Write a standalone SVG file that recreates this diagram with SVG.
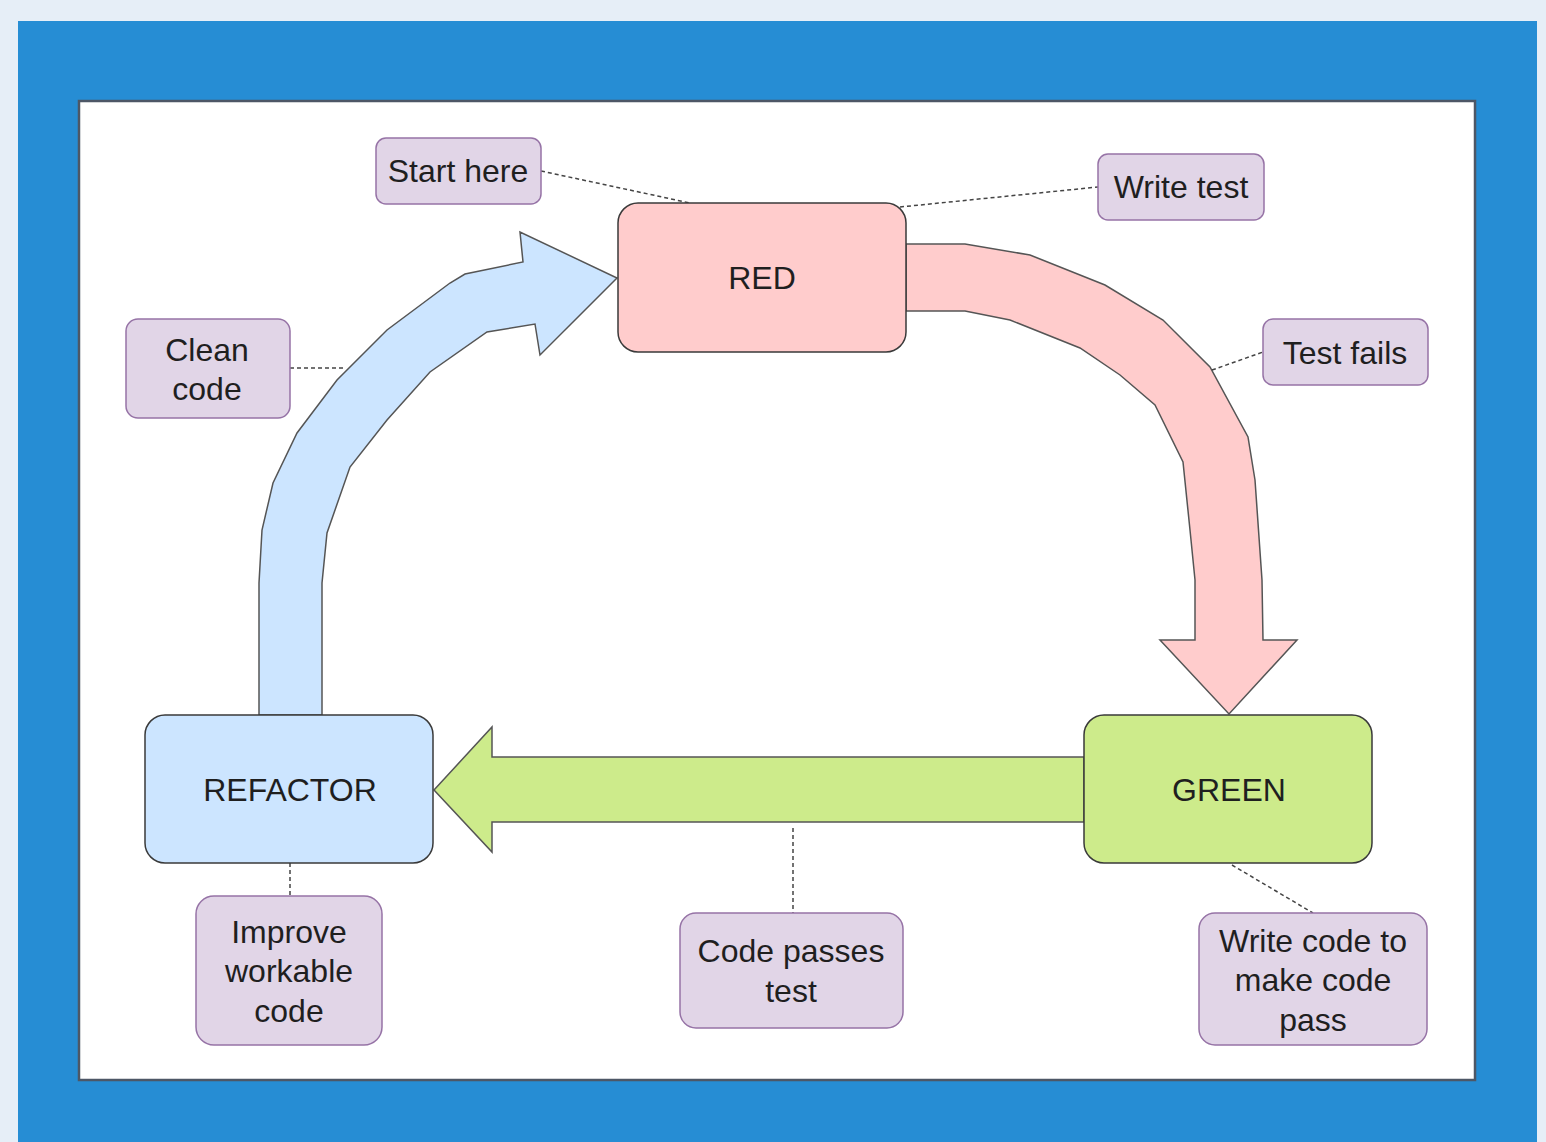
<svg xmlns="http://www.w3.org/2000/svg" width="1546" height="1142" viewBox="0 0 1546 1142">
<style>
text{font-family:"Liberation Sans",Arial,sans-serif;fill:#1f1f1f;text-anchor:middle}
.main{font-size:32px}
.lbl{font-size:32px}
.node{stroke:#3a3a3a;stroke-width:1.5}
.note{fill:#e1d5e7;stroke:#9673a6;stroke-width:1.5}
.dash{fill:none;stroke:#444;stroke-width:1.5;stroke-dasharray:4 3}
.big{stroke:#555;stroke-width:1.5;stroke-linejoin:miter}
</style>
<rect x="0" y="0" width="1546" height="1142" fill="#e6eef7"/>
<rect x="18" y="21" width="1519" height="1121" fill="#268dd4"/>
<rect x="79" y="101" width="1396" height="979" fill="#ffffff" stroke="#4d5766" stroke-width="2.5"/>
<g id="connectors">
<path class="big" fill="#cce5ff" d="M259,715 L259,583 L262,530 L273,483 L297,433 L337,380 L387,330 L450,283 L465,274 L523,262 L520,232 L617,278 L540,355 L535,324 L487,332 L430,372 L387,420 L350,467 L327,533 L322,583 L322,715 Z"/>
<path class="big" fill="#ffcccc" d="M906,244 L965,244 L1030,255 L1105,285 L1163,320 L1210,367 L1248,437 L1255,480 L1262,580 L1263,640 L1297,640 L1229,714 L1160,640 L1195,640 L1195,580 L1190,530 L1183,462 L1155,405 L1120,375 L1080,348 L1010,320 L965,311 L906,311 Z"/>
<path class="big" fill="#cdeb8b" d="M1084,757 L492,757 L492,727 L434,790 L492,852 L492,822 L1084,822 Z"/>
<path class="dash" d="M541,171 L690,203"/>
<path class="dash" d="M900,207 L1098,187"/>
<path class="dash" d="M1212,370 L1263,352"/>
<path class="dash" d="M290,368 L345,368"/>
<path class="dash" d="M290,863 L290,896"/>
<path class="dash" d="M793,828 L793,913"/>
<path class="dash" d="M1232,865 L1313,913"/>
</g>
<g id="red">
<rect class="node" x="618" y="203" width="288" height="149" rx="20" fill="#ffcccc"/>
<text class="main" x="762" y="289">RED</text>
</g>
<g id="green">
<rect class="node" x="1084" y="715" width="288" height="148" rx="20" fill="#cdeb8b"/>
<text class="main" x="1229" y="801">GREEN</text>
</g>
<g id="refactor">
<rect class="node" x="145" y="715" width="288" height="148" rx="20" fill="#cce5ff"/>
<text class="main" x="290" y="801">REFACTOR</text>
</g>
<g id="start-here">
<rect class="note" x="376" y="138" width="165" height="66" rx="10"/>
<text class="lbl" x="458" y="182">Start here</text>
</g>
<g id="write-test">
<rect class="note" x="1098" y="154" width="166" height="66" rx="10"/>
<text class="lbl" x="1181" y="198">Write test</text>
</g>
<g id="test-fails">
<rect class="note" x="1263" y="319" width="165" height="66" rx="10"/>
<text class="lbl" x="1345" y="364">Test fails</text>
</g>
<g id="clean-code">
<rect class="note" x="126" y="319" width="164" height="99" rx="12"/>
<text class="lbl" x="207" y="361">Clean</text>
<text class="lbl" x="207" y="400">code</text>
</g>
<g id="improve">
<rect class="note" x="196" y="896" width="186" height="149" rx="18"/>
<text class="lbl" x="289" y="943">Improve</text>
<text class="lbl" x="289" y="982">workable</text>
<text class="lbl" x="289" y="1022">code</text>
</g>
<g id="code-passes">
<rect class="note" x="680" y="913" width="223" height="115" rx="16"/>
<text class="lbl" x="791" y="962">Code passes</text>
<text class="lbl" x="791" y="1002">test</text>
</g>
<g id="write-code">
<rect class="note" x="1199" y="913" width="228" height="132" rx="16"/>
<text class="lbl" x="1313" y="952">Write code to</text>
<text class="lbl" x="1313" y="991">make code</text>
<text class="lbl" x="1313" y="1031">pass</text>
</g>
</svg>
